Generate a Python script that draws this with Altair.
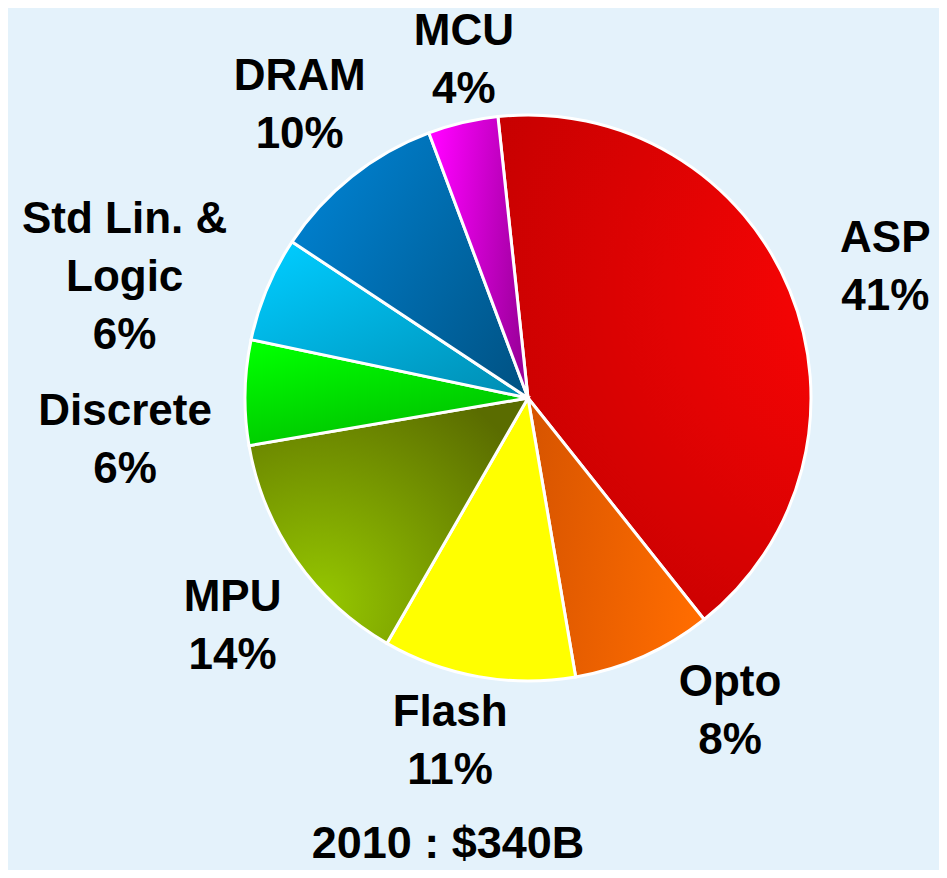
import math
import altair as alt
import pandas as pd

# ---- data ----
categories = ["ASP", "Opto", "Flash", "MPU", "Discrete", "Std Lin. & Logic", "DRAM", "MCU"]
shares = [41, 8, 11, 14, 6, 6, 10, 4]
label_names = ["ASP", "Opto", "Flash", "MPU", "Discrete", "Std Lin. &\nLogic", "DRAM", "MCU"]
title_text = "2010 : $340B"

df = pd.DataFrame({
    "idx": list(range(len(categories))),
    "cat": categories,
    "share": shares,
    "label": [f"{n}\n{s}%" for n, s in zip(label_names, shares)],
})

# ---- layout / styles ----
PAD_TOP = 12
W, H = 931, 862 - PAD_TOP
CX, CY = 520, 390 - PAD_TOP
R = 283
OFFSET = math.radians(-6.1)
theta_scale = alt.Scale(domain=[0, 100], range=[OFFSET, OFFSET + 2 * math.pi])


def lin(c1, c2, x1=0, y1=0, x2=1, y2=0):
    return alt.LinearGradient(gradient="linear", x1=x1, y1=y1, x2=x2, y2=y2,
                              stops=[alt.GradientStop(color=c1, offset=0),
                                     alt.GradientStop(color=c2, offset=1)])


def rad(c1, c2, fx, fy, r):
    return alt.RadialGradient(gradient="radial", x1=fx, y1=fy, r1=0, x2=fx, y2=fy, r2=r,
                              stops=[alt.GradientStop(color=c1, offset=0),
                                     alt.GradientStop(color=c2, offset=1)])


fills = {
    "ASP": rad("#FF0505", "#BF0000", 0.95, 0.35, 0.95),
    "Opto": lin("#D85500", "#FF6C00", 0, 0.3, 1, 0.5),
    "Flash": "#FFFF00",
    "MPU": rad("#96C800", "#5A6C00", 0.25, 0.8, 0.9),
    "Discrete": lin("#00FF00", "#00BC00", 0.2, 0, 0.7, 1),
    "Std Lin. & Logic": lin("#00CCFF", "#008FB5", 0.1, 0, 0.9, 1),
    "DRAM": lin("#0082D2", "#005385", 0, 0.2, 1, 0.9),
    "MCU": lin("#FF00FF", "#9C009C", 0, 0.3, 1, 0.6),
}

# label placement: (radius, dx, dy) -- anchor is the first line's centre
label_pos = {
    "ASP": (370, 15, -19),
    "Opto": (370, 51, -53),
    "Flash": (370, -13, -49),
    "MPU": (370, 8, -12),
    "Discrete": (370, -33, 21),
    "Std Lin. & Logic": (370, -62, -35),
    "DRAM": (370, 2, -31),
    "MCU": (370, 21, -6),
}
TITLE_X, TITLE_Y = 440, 836 - PAD_TOP

FONT = "Liberation Sans"
FS = 44

base = alt.Chart(df).transform_window(
    end="sum(share)", sort=[alt.SortField("idx")], frame=[None, 0]
).transform_calculate(
    start="datum.end - datum.share",
    mid="datum.end - datum.share / 2",
)

layers = []
for c in categories:
    layers.append(
        base.transform_filter(alt.datum.cat == c)
        .mark_arc(outerRadius=R, stroke="white", strokeWidth=3, fill=fills[c])
        .encode(
            theta=alt.Theta("start:Q", scale=theta_scale, stack=None),
            theta2="end:Q",
            x=alt.value(CX),
            y=alt.value(CY),
        )
    )

for c in categories:
    r, dx, dy = label_pos[c]
    layers.append(
        base.transform_filter(alt.datum.cat == c)
        .mark_text(radius=r, dx=dx, dy=dy, font=FONT, fontSize=FS, fontWeight="bold",
                   color="black", lineBreak="\n", lineHeight=58, align="center",
                   baseline="middle")
        .encode(
            theta=alt.Theta("mid:Q", scale=theta_scale, stack=None),
            text="label:N",
            x=alt.value(CX),
            y=alt.value(CY),
        )
    )

title_layer = alt.Chart(pd.DataFrame({"t": [title_text]})).mark_text(
    font=FONT, fontSize=FS + 1, fontWeight="bold", color="black",
    align="center", baseline="middle",
).encode(text="t:N", x=alt.value(TITLE_X), y=alt.value(TITLE_Y))
layers.append(title_layer)

chart = alt.layer(*layers).properties(
    width=W, height=H,
    padding={"left": 0, "top": PAD_TOP, "right": 0, "bottom": 0},
    autosize=alt.AutoSizeParams(type="none"),
    background="#E4F2FB",
).configure_view(stroke=None)

chart.save("out.html", embed_options={"renderer": "svg", "actions": False})
